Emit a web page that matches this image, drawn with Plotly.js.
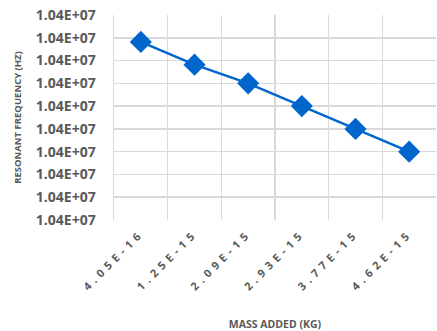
<!DOCTYPE html>
<html>
<head>
<meta charset="utf-8">
<script src="https://cdn.plot.ly/plotly-3.0.1.min.js"></script>
<style>
html,body{margin:0;padding:0;background:#fff;}
#chart{width:437px;height:331px;}
.xtick text{letter-spacing:4.5px;}
</style>
</head>
<body>
<div id="chart"></div>
<script>
// Data
var massAdded = ["4.05E-16", "1.25E-15", "2.09E-15", "2.93E-15", "3.77E-15", "4.62E-15"];
var resonantFrequency = [10400007.82, 10400006.82, 10400006.0, 10400005.0, 10400004.0, 10400003.0];
var yTickVals = [10400000, 10400001, 10400002, 10400003, 10400004, 10400005, 10400006, 10400007, 10400008, 10400009];
var yTickText = ["1.04E+07", "1.04E+07", "1.04E+07", "1.04E+07", "1.04E+07", "1.04E+07", "1.04E+07", "1.04E+07", "1.04E+07", "1.04E+07"];

var grey = "#595959";
var fam = "'Open Sans', sans-serif";
var trace = {
  x: massAdded,
  y: resonantFrequency,
  type: "scatter",
  mode: "lines+markers",
  line: {color: "#0066CC", width: 2.5},
  marker: {symbol: "diamond", size: 17, color: "#0066CC"},
  hoverinfo: "skip"
};

var layout = {
  width: 437,
  height: 331,
  margin: {l: 114, r: 1, t: 15, b: 111},
  paper_bgcolor: "#ffffff",
  plot_bgcolor: "#ffffff",
  showlegend: false,
  font: {family: fam, color: grey},
  xaxis: {
    type: "category",
    tickson: "boundaries",
    range: [-0.5, 5.5],
    showgrid: true,
    gridcolor: "#d9d9d9",
    gridwidth: 1.5,
    showline: false,
    zeroline: false,
    ticks: "",
    tickangle: -45,
    ticklabelstandoff: 4,
    tickfont: {family: fam, size: 11, color: grey, weight: 700},
    title: {text: "MASS ADDED (KG)", font: {family: fam, size: 10.5, color: grey, weight: 700}, standoff: 28},
    automargin: false
  },
  yaxis: {
    range: [10400000, 10400009],
    tickmode: "array",
    tickvals: yTickVals,
    ticktext: yTickText,
    showgrid: true,
    gridcolor: "#d9d9d9",
    gridwidth: 1.5,
    showline: true,
    linecolor: "#d9d9d9",
    linewidth: 1.5,
    mirror: false,
    zeroline: false,
    ticks: "",
    ticklabelstandoff: 14,
    tickfont: {family: fam, size: 14, color: grey, weight: 700},
    title: {text: "RESONANT FREQUENCY (HZ)", font: {family: fam, size: 9.5, color: grey, weight: 700}, standoff: 12},
    automargin: false
  }
};

Plotly.newPlot("chart", [trace], layout, {displayModeBar: false, staticPlot: true});
</script>
</body>
</html>
